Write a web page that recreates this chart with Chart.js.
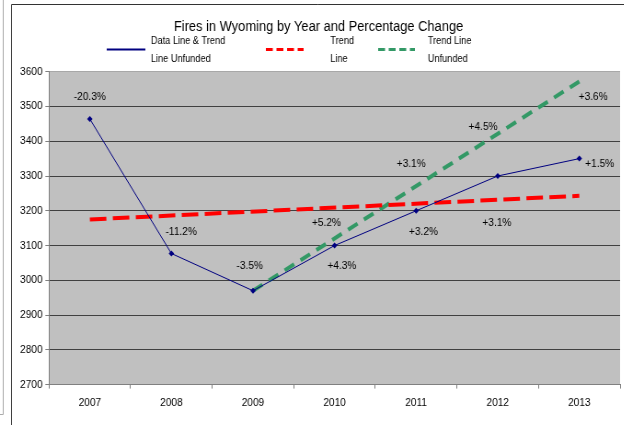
<!DOCTYPE html>
<html>
<head>
<meta charset="utf-8">
<title>Fires in Wyoming</title>
<script src="https://cdn.jsdelivr.net/npm/chart.js@4.4.1/dist/chart.umd.min.js"></script>
<style>
  html, body { margin: 0; padding: 0; background: #fff; overflow: hidden; }
  /* the reference is a slightly squeezed screenshot, so draw wider and squeeze */
  #wrap { position: relative; width: 678px; height: 425px; transform: scaleX(0.92); transform-origin: 0 0; }
</style>
</head>
<body>
<div id="wrap"><canvas id="chart"></canvas></div>
<script>
'use strict';

/*********** DATA ***********/
var years = ['2007', '2008', '2009', '2010', '2011', '2012', '2013'];
var fires = [3464, 3077, 2970, 3100, 3200, 3300, 3350];
var trendLine = [3175, null, null, null, null, null, 3243];
var trendUnfunded = [null, null, 2970, null, null, null, 3572];
var yMin = 2700;
var yMax = 3600;
var yStep = 100;
var changeLabels = ['-20.3%', '-11.2%', '-3.5%', '+4.3%', '+3.2%', '+3.1%', '+1.5%'];
var unfundedLabels = [null, null, null, '+5.2%', '+3.1%', '+4.5%', '+3.6%'];
var titleText = 'Fires in Wyoming by Year and Percentage Change';

/*********** LABEL PLACEMENT (category index, value) ***********/
var changeAt = [[0, 3527], [1.12, 3140], [1.96, 3042], [3.09, 3040], [4.09, 3140], [4.99, 3165], [6.25, 3335]];
var unfundedAt = [null, null, null, [2.9, 3165], [3.94, 3335], [4.82, 3442], [6.17, 3528]];

var FONT = "'Liberation Sans', Arial, sans-serif";

/*********** PLUGINS ***********/
// grey plot area
var plotBg = {
  id: 'plotBg',
  beforeDraw: function(chart) {
    var a = chart.chartArea;
    var ctx = chart.ctx;
    ctx.save();
    ctx.fillStyle = '#c0c0c0';
    ctx.fillRect(a.left, a.top, a.right - a.left, a.bottom - a.top);
    ctx.restore();
  }
};

// percentage change labels next to the points
var notes = {
  id: 'notes',
  afterDatasetsDraw: function(chart) {
    var ctx = chart.ctx;
    var xs = chart.scales.x;
    var ys = chart.scales.y;
    ctx.save();
    ctx.font = '11px ' + FONT;
    ctx.fillStyle = '#000';
    ctx.textAlign = 'center';
    ctx.textBaseline = 'middle';
    for (var i = 0; i < years.length; i++) {
      if (changeLabels[i]) {
        ctx.fillText(changeLabels[i], xs.getPixelForValue(changeAt[i][0]), ys.getPixelForValue(changeAt[i][1]));
      }
      if (unfundedLabels[i]) {
        ctx.fillText(unfundedLabels[i], xs.getPixelForValue(unfundedAt[i][0]), ys.getPixelForValue(unfundedAt[i][1]));
      }
    }
    ctx.restore();
  }
};

// legend with two-line labels, plus the screenshot frame
var legendAndFrame = {
  id: 'legendAndFrame',
  afterDraw: function(chart) {
    var ctx = chart.ctx;
    var ds = chart.data.datasets;
    var items = [
      { x: 116, w: 42, tx: 164, lines: ['Data Line & Trend', 'Line Unfunded'] },
      { x: 289, w: 41, tx: 359, lines: ['Trend', 'Line'] },
      { x: 411, w: 40, tx: 465, lines: ['Trend Line', 'Unfunded'] }
    ];
    ctx.save();
    for (var i = 0; i < items.length; i++) {
      var it = items[i];
      ctx.strokeStyle = ds[i].borderColor;
      ctx.lineWidth = i === 0 ? 2 : 3;
      ctx.setLineDash(i === 0 ? [] : [7.5, 4]);
      ctx.beginPath();
      ctx.moveTo(it.x, 49.5);
      ctx.lineTo(it.x + it.w, 49.5);
      ctx.stroke();
      ctx.setLineDash([]);
      ctx.font = '10px ' + FONT;
      ctx.fillStyle = '#000';
      ctx.textAlign = 'left';
      ctx.textBaseline = 'middle';
      ctx.fillText(it.lines[0], it.tx, 41.7);
      ctx.fillText(it.lines[1], it.tx, 59.3);
    }

    // frame lines
    ctx.lineWidth = 1;
    ctx.strokeStyle = '#aaaaaa';
    ctx.beginPath();
    ctx.moveTo(3.5, 0);
    ctx.lineTo(3.5, 414.5);
    ctx.lineTo(0, 414.5);
    ctx.stroke();
    ctx.strokeStyle = '#333333';
    ctx.beginPath();
    ctx.moveTo(12.5, 425);
    ctx.lineTo(12.5, 4.5);
    ctx.lineTo(chart.width, 4.5);
    ctx.stroke();
    ctx.restore();
  }
};

/*********** CHART ***********/
function gridColor(c) {
  if (c.tick.value === yMin) return '#808080';
  if (c.tick.value === yMax) return '#a8a8a8';
  return '#404040';
}

var ctx = document.getElementById('chart').getContext('2d');
new Chart(ctx, {
  type: 'line',
  data: {
    labels: years,
    datasets: [{
      label: 'Data Line & Trend Line Unfunded',
      data: fires,
      borderColor: '#000080',
      backgroundColor: '#000080',
      borderWidth: 1,
      pointStyle: 'rectRot',
      pointRadius: 3,
      pointBorderWidth: 0,
      pointBackgroundColor: '#000080',
      tension: 0
    }, {
      label: 'Trend Line',
      data: trendLine,
      borderColor: '#ff0000',
      borderWidth: 4,
      borderDash: [18, 7],
      pointRadius: 0,
      spanGaps: true
    }, {
      label: 'Trend Line Unfunded',
      data: trendUnfunded,
      borderColor: '#339966',
      borderWidth: 4,
      borderDash: [12, 8],
      pointRadius: 0,
      spanGaps: true
    }]
  },
  options: {
    responsive: true,
    maintainAspectRatio: false,
    animation: false,
    layout: { padding: { left: 18.5, right: 4, top: 0, bottom: 8.4 } },
    plugins: {
      legend: { display: false },
      tooltip: { enabled: false },
      title: {
        display: true,
        text: titleText,
        color: '#000',
        font: { family: FONT, size: 14, weight: 'normal' },
        padding: { top: 18.3, bottom: 36.6 }
      }
    },
    scales: {
      x: {
        offset: true,
        grid: { offset: true, drawOnChartArea: false, drawTicks: true, tickLength: 4, tickColor: '#808080' },
        border: { color: '#808080' },
        ticks: { color: '#000', font: { family: FONT, size: 11 }, padding: 7.4, maxRotation: 0, autoSkip: false }
      },
      y: {
        min: yMin,
        max: yMax,
        afterFit: function(scale) { scale.width = 34.8; },
        grid: { color: gridColor, tickColor: '#808080', tickLength: 4 },
        border: { color: '#808080' },
        ticks: {
          stepSize: yStep,
          color: '#000',
          font: { family: FONT, size: 11 },
          padding: 3,
          callback: function(v) { return String(v); }
        }
      }
    }
  },
  plugins: [plotBg, notes, legendAndFrame]
});
</script>
</body>
</html>
